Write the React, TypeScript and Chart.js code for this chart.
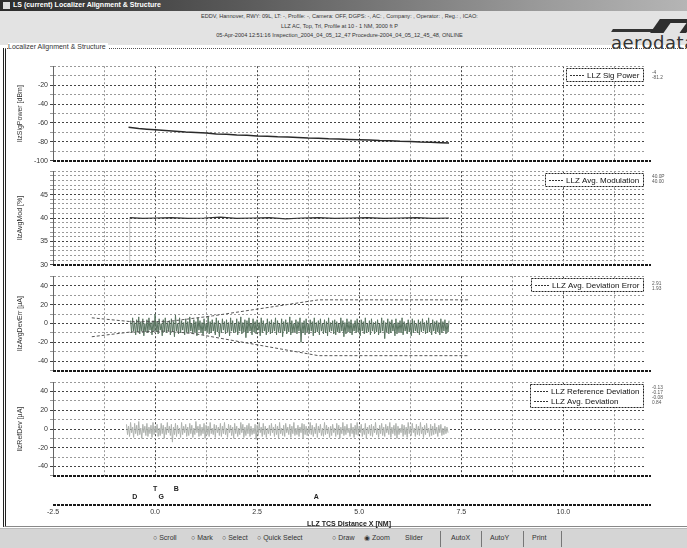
import React, { useEffect, useRef } from 'react';
import { Chart, registerables } from 'chart.js';
Chart.register(...registerables);

const FONT = '"Liberation Sans", Arial, sans-serif';

// ---------- shared distance axis ----------
const DIST_MIN = -2.5;
const DIST_MAX = 12;
const distGrid = [-2.5, -1.25, 0, 1.25, 2.5, 3.75, 5, 6.25, 7.5, 8.75, 10, 11.25];
const distMajor = [-2.5, 0, 2.5, 5, 7.5, 10];
const distTickValues = [-2.5, 0, 2.5, 5, 7.5, 10];
const distTickLabels = ['-2.5', '0.0', '2.5', '5.0', '7.5', '10.0'];

// ---------- panel 1 : signal power ----------
const sigDist = [-0.65, -0.4, -0.2, 0, 0.25, 0.5, 0.75, 1, 1.25, 1.5, 1.75, 2, 2.25, 2.5, 2.75, 3, 3.25, 3.5, 3.75, 4, 4.25, 4.5, 4.75, 5, 5.25, 5.5, 5.75, 6, 6.25, 6.5, 6.75, 7, 7.2];
const sigPower = [-64.5, -65.8, -66.6, -67.3, -68.1, -68.7, -69.6, -70.2, -70.7, -71.6, -72.0, -72.7, -73.0, -73.7, -74.0, -74.7, -74.9, -75.4, -75.9, -76.1, -76.7, -77.0, -77.5, -77.8, -78.0, -78.6, -78.8, -79.3, -79.5, -80.1, -80.3, -80.8, -81.2];
const sigTicks = [-100, -90, -80, -70, -60, -50, -40, -30, -20, -10, 0];
const sigLabeled = [-100, -80, -60, -40, -20];

// ---------- panel 2 : modulation ----------
const modDist = [-0.62, -0.3, 0, 0.4, 0.8, 1.2, 1.6, 2.0, 2.4, 2.8, 3.2, 3.6, 4.0, 4.4, 4.8, 5.2, 5.6, 6.0, 6.4, 6.8, 7.2];
const modValues = [40.1, 39.9, 40.0, 40.1, 39.9, 40.0, 40.2, 39.9, 40.0, 40.1, 39.8, 40.0, 40.1, 39.9, 40.0, 40.1, 39.9, 40.0, 40.1, 39.9, 40.0];
const modStartDist = [-0.62, -0.62];
const modStartValues = [30.5, 40.0];
const modTicks = [30, 31, 32, 33, 34, 35, 36, 37, 38, 39, 40, 41, 42, 43, 44, 45, 46, 47, 48, 49, 50];
const modLabeled = [30, 35, 40, 45];

// ---------- panel 3 : deviation error ----------
const devErrStart = -0.6;
const devErrStep = 0.025;
const devErr = [
  3, -10, 6, -8, 1, -12, 4, -9, 7, -11, 2, -8, 5, -13, 0, -9, 4, -10, 6, -7,
  1, -12, 3, -8, 10, -9, 2, -11, 5, -7, 0, -13, 4, -9, 6, -10, 1, -8, 3, -12,
  5, -9, 2, -14, 9, -8, 0, -11, 6, -10, 3, -7, 1, -12, 5, -9, 2, -10, 7, -8,
  0, -11, 4, -9, 2, -13, 6, -7, 3, -10, 1, -12, 5, -8, 0, -9, 7, -11, 2, -10,
  4, -8, 1, -12, 6, -9, 3, -14, 0, -10, 5, -7, 2, -11, 4, -9, 1, -13, 6, -8,
  3, -10, 0, -9, 5, -12, 2, -8, 7, -11, 1, -9, 4, -15, 3, -10, 6, -8, 0, -12,
  5, -9, 2, -11, 4, -7, 1, -13, 6, -10, 3, -8, 0, -12, 5, -9, 2, -11, 4, -10,
  1, -8, 6, -12, 3, -9, 0, -10, 5, -14, 2, -8, 4, -11, 1, -9, 7, -12, 3, -10,
  0, -9, 4, -11, 2, -8, 6, -20, 1, -10, 3, -12, 5, -9, 0, -11, 4, -8, 2, -13,
  6, -10, 1, -9, 3, -12, 5, -8, 0, -11, 4, -10, 2, -13, 6, -9, 1, -8, 3, -11,
  4, -12, 2, -9, 0, -10, 6, -8, 3, -14, 1, -11, 5, -9, 2, -10, 4, -12, 0, -8,
  3, -10, 5, -9, 1, -13, 4, -8, 2, -11, 6, -10, 0, -9, 3, -12, 5, -8, 1, -11,
  2, -9, 4, -12, 0, -10, 6, -8, 3, -16, 1, -9, 5, -11, 2, -10, 4, -8, 0, -13,
  5, -11, 1, -9, 3, -10, 6, -12, 2, -8, 0, -11, 4, -9, 1, -13, 5, -10, 3, -8,
  0, -10, 4, -12, 2, -9, 5, -8, 1, -11, 3, -10, 6, -9, 0, -12, 4, -8, 2, -11,
  3, -9, 1, -12, 5, -10, 2, -8, 4, -11, 0, -9, 3,
];
const tolUpperDist = [-1.55, -0.6, 0.3, 1.4, 4.0, 7.7];
const tolUpper = [6, 2, 2, 8, 25, 25];
const tolLowerDist = [-1.55, -0.6, 0.3, 1.0, 4.0, 7.7];
const tolLower = [-14, -9, -8, -11, -34, -34];
const devTicks = [-50, -40, -30, -20, -10, 0, 10, 20, 30, 40, 50];
const devLabeled = [-40, -20, 0, 20, 40];

// ---------- panel 4 : deviation ----------
const avgDevStart = -0.7;
const avgDevStep = 0.025;
const avgDev = [
  5, -6, 3, -8, 7, -4, 2, -9, 6, -5, 4, -7, 8, -6, 1, -10, 5, -4, 3, -7,
  6, -8, 2, -5, 4, -9, 7, -6, 3, -4, 5, -8, 1, -7, 6, -5, 4, -10, 2, -6,
  7, -4, 3, -7, 5, -14, 2, -6, 6, -8, 4, -5, 1, -9, 7, -6, 3, -4, 5, -8,
  2, -7, 6, -5, 4, -9, 1, -6, 8, -4, 3, -8, 5, -7, 2, -5, 6, -10, 4, -6,
  3, -8, 7, -5, 1, -6, 5, -9, 4, -4, 2, -7, 6, -8, 3, -5, 7, -6, 1, -9,
  5, -4, 4, -7, 2, -10, 6, -5, 3, -8, 1, -6, 7, -4, 5, -9, 2, -7, 4, -5,
  6, -8, 3, -6, 1, -5, 5, -11, 4, -7, 7, -4, 2, -8, 6, -6, 3, -9, 1, -5,
  4, -7, 6, -4, 2, -8, 5, -6, 3, -10, 7, -5, 1, -7, 4, -8, 6, -4, 2, -6,
  5, -9, 3, -5, 7, -7, 1, -6, 4, -8, 2, -4, 6, -10, 5, -6, 3, -7, 1, -5,
  7, -6, 4, -8, 2, -5, 6, -9, 3, -4, 5, -7, 1, -8, 7, -6, 4, -5, 2, -9,
  3, -7, 5, -4, 1, -8, 6, -6, 4, -10, 2, -5, 7, -7, 3, -6, 5, -4, 1, -8,
  6, -5, 2, -9, 4, -6, 7, -7, 3, -4, 5, -8, 1, -6, 6, -10, 2, -5, 4, -7,
  5, -8, 3, -4, 7, -6, 1, -9, 4, -5, 6, -7, 2, -8, 5, -4, 3, -6, 7, -9,
  2, -5, 4, -7, 6, -10, 3, -6, 1, -4, 5, -8, 4, -6, 2, -9, 7, -5, 3, -7,
  6, -4, 1, -8, 5, -6, 3, -7, 7, -5, 2, -9, 4, -6, 6, -4, 1, -8, 5, -7,
  3, -6, 6, -5, 2, -8, 4, -4, 5, -7, 1, -6, 3, -5, 2, -4,
];
const refDevDist: number[] = [];
const refDev: number[] = [];

// ---------- markers ----------
const markerLabels = ['D', 'T', 'G', 'B', 'A'];
const markerDist = [-0.5, 0.0, 0.15, 0.52, 3.95];
const markerRow = [1, 0, 1, 0, 1];

const pairs = (xs: number[], ys: number[]) => ys.map((y, i) => ({ x: xs[i], y }));
const series = (start: number, step: number, ys: number[]) =>
  ys.map((y, i) => ({ x: start + i * step, y }));

const legendBoxPlugin = {
  id: 'legendBox',
  afterDatasetsDraw(chart: any) {
    const items = chart.data.datasets.filter((d: any) => d.label);
    if (!items.length) return;
    const ctx = chart.ctx;
    const ca = chart.chartArea;
    ctx.save();
    ctx.font = `8px ${FONT}`;
    const tw = Math.max(...items.map((d: any) => ctx.measureText(d.label).width));
    const rowH = 10;
    const w = Math.round(tw + 25);
    const h = items.length * rowH + 3;
    const x = Math.round(ca.right - 2 - w);
    const y = Math.round(ca.top + 2);
    ctx.fillStyle = '#fff';
    ctx.fillRect(x, y, w, h);
    ctx.strokeStyle = '#222';
    ctx.lineWidth = 1;
    ctx.setLineDash([2, 1]);
    ctx.strokeRect(x + 0.5, y + 0.5, w, h);
    items.forEach((d: any, i: number) => {
      const cy = y + 2 + rowH * i + rowH / 2;
      ctx.strokeStyle = '#333';
      ctx.setLineDash([2, 1]);
      ctx.beginPath();
      ctx.moveTo(x + 4, Math.round(cy) + 0.5);
      ctx.lineTo(x + 18, Math.round(cy) + 0.5);
      ctx.stroke();
      ctx.setLineDash([]);
      ctx.fillStyle = '#111';
      ctx.textBaseline = 'middle';
      ctx.textAlign = 'left';
      ctx.fillText(d.label, x + 21, cy + 0.5);
    });
    ctx.restore();
  },
};

const bottomRulePlugin = {
  id: 'bottomRule',
  afterDraw(chart: any) {
    const { ctx, chartArea: ca } = chart;
    ctx.save();
    ctx.strokeStyle = '#1a1a1a';
    ctx.lineWidth = 2;
    ctx.setLineDash([3, 1]);
    ctx.beginPath();
    ctx.moveTo(ca.left, Math.round(ca.bottom));
    ctx.lineTo(ca.right + 6, Math.round(ca.bottom));
    ctx.stroke();
    ctx.restore();
  },
};

const markerPlugin = {
  id: 'markers',
  afterDraw(chart: any) {
    const { ctx, chartArea: ca } = chart;
    const sx = chart.scales.x;
    ctx.save();
    ctx.font = `bold 7px ${FONT}`;
    ctx.fillStyle = '#222';
    ctx.textAlign = 'center';
    ctx.textBaseline = 'middle';
    markerLabels.forEach((lab, i) => {
      const px = sx.getPixelForValue(markerDist[i]);
      const py = ca.bottom - (markerRow[i] === 0 ? 15 : 7);
      ctx.fillText(lab, px, py);
    });
    ctx.restore();
  },
};

type PanelDef = {
  top: number;
  height: number;
  yMin: number;
  yMax: number;
  yGrid: number[];
  yLabeled: number[];
  yTitle: string;
  datasets: any[];
};

const lineDs = (label: string, data: any[], color: string, width: number, dash: number[] = []) => ({
  label,
  data,
  borderColor: color,
  borderWidth: width,
  borderDash: dash,
  pointRadius: 0,
  fill: false,
  tension: 0,
});

const panels: PanelDef[] = [
  {
    top: 60, height: 107, yMin: -100, yMax: 0, yGrid: sigTicks, yLabeled: sigLabeled,
    yTitle: 'llzSigPower [dBm]',
    datasets: [lineDs('LLZ Sig Power', pairs(sigDist, sigPower), '#2a2a2a', 1.5)],
  },
  {
    top: 165, height: 106, yMin: 30, yMax: 50, yGrid: modTicks, yLabeled: modLabeled,
    yTitle: 'llzAvgMod [%]',
    datasets: [
      lineDs('LLZ Avg. Modulation', pairs(modDist, modValues), '#333', 1.2),
      lineDs('', pairs(modStartDist, modStartValues), '#888', 1, [1, 1]),
    ],
  },
  {
    top: 270, height: 107, yMin: -50, yMax: 50, yGrid: devTicks, yLabeled: devLabeled,
    yTitle: 'llzAvgDevErr [\u00b5A]',
    datasets: [
      lineDs('', pairs(tolUpperDist, tolUpper), '#555', 1, [3, 2]),
      lineDs('', pairs(tolLowerDist, tolLower), '#555', 1, [3, 2]),
      lineDs('LLZ Avg. Deviation Error', series(devErrStart, devErrStep, devErr), '#58735f', 1),
    ],
  },
  {
    top: 376, height: 106, yMin: -50, yMax: 50, yGrid: devTicks, yLabeled: devLabeled,
    yTitle: 'llzRefDev [\u00b5A]',
    datasets: [
      lineDs('LLZ Reference Deviation', pairs(refDevDist, refDev), '#666', 1),
      lineDs('LLZ Avg. Deviation', series(avgDevStart, avgDevStep, avgDev), '#aeb2ae', 1),
    ],
  },
];

function panelConfig(p: PanelDef): any {
  return {
    type: 'line',
    data: { datasets: p.datasets },
    options: {
      animation: false,
      responsive: false,
      maintainAspectRatio: false,
      layout: { padding: { top: 5, bottom: 5, left: 0, right: 42 } },
      plugins: { legend: { display: false }, tooltip: { enabled: false } },
      scales: {
        x: {
          type: 'linear',
          min: DIST_MIN,
          max: DIST_MAX,
          afterBuildTicks: (s: any) => { s.ticks = distGrid.map((v) => ({ value: v })); },
          ticks: { display: false, autoSkip: false },
          grid: {
            drawTicks: false,
            lineWidth: 1,
            color: (c: any) => (c.tick && distMajor.includes(c.tick.value) ? '#444' : '#999'),
          },
          border: { display: false, dash: [2, 2] },
        },
        y: {
          type: 'linear',
          min: p.yMin,
          max: p.yMax,
          afterBuildTicks: (s: any) => { s.ticks = p.yGrid.map((v) => ({ value: v })); },
          afterFit: (s: any) => { s.width = 45; },
          ticks: {
            autoSkip: false,
            font: { size: 7, family: FONT },
            color: '#333',
            padding: 2,
            callback: (v: any) => (p.yLabeled.includes(Number(v)) ? String(v) : ''),
          },
          grid: {
            drawTicks: true,
            tickLength: 3,
            lineWidth: 1,
            color: (c: any) => (c.tick && p.yLabeled.includes(c.tick.value) ? '#444' : '#999'),
          },
          border: { display: true, color: '#666', dash: [2, 2] },
          title: {
            display: true,
            text: p.yTitle,
            font: { size: 7, family: FONT },
            color: '#333',
            padding: { top: 8, bottom: 0 },
          },
        },
      },
    },
    plugins: [legendBoxPlugin, bottomRulePlugin],
  };
}

function axisConfig(): any {
  return {
    type: 'line',
    data: { datasets: [] },
    options: {
      animation: false,
      responsive: false,
      maintainAspectRatio: false,
      layout: { padding: { top: 0, bottom: 0, left: 45, right: 42 } },
      plugins: { legend: { display: false }, tooltip: { enabled: false } },
      scales: {
        x: {
          type: 'linear',
          min: DIST_MIN,
          max: DIST_MAX,
          afterBuildTicks: (s: any) => { s.ticks = distTickValues.map((v) => ({ value: v })); },
          ticks: {
            autoSkip: false,
            maxRotation: 0,
            font: { size: 7, family: FONT },
            color: '#333',
            padding: 3,
            callback: (v: any) => {
              const i = distTickValues.indexOf(Number(v));
              return i >= 0 ? distTickLabels[i] : '';
            },
          },
          grid: { display: false, drawTicks: false },
          border: { display: false },
          title: {
            display: true,
            text: 'LLZ TCS Distance X [NM]',
            font: { size: 7, weight: 'bold', family: FONT },
            color: '#222',
            padding: { top: 1, bottom: 0 },
          },
        },
        y: { display: false, min: 0, max: 1 },
      },
    },
    plugins: [bottomRulePlugin, markerPlugin],
  };
}

const headerLines = [
  'EDDV, Hannover, RWY: 09L, LT: -, Profile: -, Camera: OFF, DGPS: -, AC: , Company: , Operator: , Reg.: , ICAO:',
  'LLZ AC, Top, Trl, Profile at 10 - 1 NM, 3000 ft P',
  '05-Apr-2004 12:51:16 Inspection_2004_04_05_12_47 Procedure-2004_04_05_12_45_48, ONLINE',
];

const sideTexts = [
  { top: 70, lines: ['-4', '-81.2'] },
  { top: 174, lines: ['40.0P', '40.00'] },
  { top: 281, lines: ['2.91', '1.93'] },
  { top: 385, lines: ['-0.13', '-0.17', '-0.08', '0.84'] },
];

const toolbarItems = [
  { x: 153, t: '\u25cb Scroll' },
  { x: 191, t: '\u25cb Mark' },
  { x: 222, t: '\u25cb Select' },
  { x: 257, t: '\u25cb Quick Select' },
  { x: 332, t: '\u25cb Draw' },
  { x: 364, t: '\u25c9 Zoom' },
  { x: 405, t: 'Slider' },
  { x: 451, t: 'AutoX' },
  { x: 490, t: 'AutoY' },
  { x: 532, t: 'Print' },
];
const toolbarSeps = [440, 481, 523, 561];

export default function App() {
  const refs = useRef<(HTMLCanvasElement | null)[]>([]);

  useEffect(() => {
    const charts: Chart[] = [];
    panels.forEach((p, i) => {
      const c = refs.current[i];
      if (c) charts.push(new Chart(c, panelConfig(p)));
    });
    const a = refs.current[4];
    if (a) charts.push(new Chart(a, axisConfig()));
    return () => charts.forEach((c) => c.destroy());
  }, []);

  const abs = (s: React.CSSProperties): React.CSSProperties => ({ position: 'absolute', ...s });

  return (
    <div style={{ position: 'fixed', left: 0, top: 0, width: 687, height: 548, background: '#fff', overflow: 'hidden', fontFamily: FONT }}>
      {/* title bar */}
      <div style={abs({ left: 0, top: 0, width: 687, height: 11, background: 'linear-gradient(90deg,#2b2b2b,#5a5a5a 35%,#9c9c9c 80%,#b5b5b5)' })}>
        <div style={abs({ left: 3, top: 2, width: 7, height: 7, background: '#ddd' })} />
        <span style={abs({ left: 13, top: 1, fontSize: 7, fontWeight: 'bold', color: '#fff', whiteSpace: 'nowrap' })}>
          LS (current) Localizer Alignment &amp; Structure
        </span>
      </div>
      {/* header */}
      <div style={abs({ left: 0, top: 11, width: 687, height: 34, background: '#e3e3e3' })} />
      {headerLines.map((t, i) => (
        <div key={i} style={abs({ left: 0, width: 687, top: 13 + i * 9.5, textAlign: 'center', fontSize: 5.6, color: '#333', whiteSpace: 'nowrap', marginLeft: -4 })}>{t}</div>
      ))}
      {/* logo */}
      <div style={abs({ left: 612, top: 29, width: 52, height: 3, background: '#333', transform: 'skewX(-30deg)' })} />
      <div style={abs({ left: 655, top: 19, width: 36, height: 14, background: '#2e2e2e', transform: 'skewX(-35deg)' })} />
      <div style={abs({ left: 667, top: 23, width: 16, height: 10, background: '#e3e3e3', transform: 'skewX(-35deg)' })} />
      <div style={abs({ left: 611, top: 32, fontSize: 18, color: '#333', fontFamily: '"DejaVu Sans", sans-serif', whiteSpace: 'nowrap', letterSpacing: 0.5 })}>aerodata</div>
      {/* group box */}
      <div style={abs({ left: 3, top: 48, width: 690, height: 477, borderLeft: '3px double #222', borderTop: '1px dotted #555', borderBottom: '1px solid #888' })} />
      <div style={abs({ left: 8, top: 43, fontSize: 7, color: '#333', background: '#fff', paddingRight: 2, whiteSpace: 'nowrap' })}>Localizer Alignment &amp; Structure</div>

      {panels.map((p, i) => (
        <canvas
          key={i}
          ref={(el) => { refs.current[i] = el; }}
          width={679}
          height={p.height}
          style={abs({ left: 8, top: p.top, width: 679, height: p.height })}
        />
      ))}
      <canvas
        ref={(el) => { refs.current[4] = el; }}
        width={679}
        height={47}
        style={abs({ left: 8, top: 481, width: 679, height: 47 })}
      />

      {/* side readouts */}
      {sideTexts.map((s, i) => (
        <div key={i} style={abs({ left: 652, top: s.top, fontSize: 4.8, lineHeight: '5px', color: '#555', whiteSpace: 'pre' })}>
          {s.lines.join('\n')}
        </div>
      ))}

      {/* toolbar */}
      <div style={abs({ left: 0, top: 528, width: 687, height: 20, background: '#d5d5d5', borderTop: '1px solid #bbb' })} />
      {toolbarItems.map((it, i) => (
        <span key={i} style={abs({ left: it.x, top: 534, fontSize: 7, color: '#333', whiteSpace: 'nowrap' })}>{it.t}</span>
      ))}
      {toolbarSeps.map((x, i) => (
        <div key={i} style={abs({ left: x, top: 531, width: 1, height: 16, background: '#777' })} />
      ))}
    </div>
  );
}
